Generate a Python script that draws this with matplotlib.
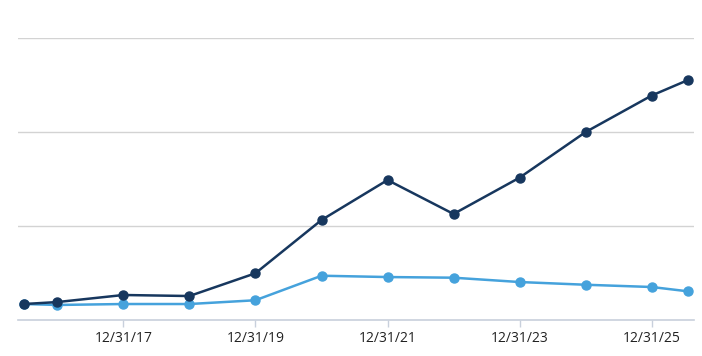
import matplotlib
matplotlib.use("Agg")
import matplotlib.pyplot as plt
import matplotlib.dates as mdates
import pandas as pd

dates = pd.to_datetime([
    "2016-06-30", "2016-12-31", "2017-12-31", "2018-12-31", "2019-12-31",
    "2020-12-31", "2021-12-31", "2022-12-31", "2023-12-31", "2024-12-31",
    "2025-12-31", "2026-07-20",
])
series_dark = [1.70, 1.91, 2.66, 2.55, 4.97, 10.64, 14.89, 11.28, 15.14, 20.0, 23.88, 25.53]
series_light = [1.70, 1.60, 1.70, 1.70, 2.10, 4.71, 4.57, 4.50, 4.04, 3.75, 3.51, 3.05]
tick_dates = pd.to_datetime(["2017-12-31", "2019-12-31", "2021-12-31", "2023-12-31", "2025-12-31"])
tick_labels = ["12/31/17", "12/31/19", "12/31/21", "12/31/23", "12/31/25"]

fig = plt.figure(figsize=(7.02, 3.56), dpi=100)
ax = fig.add_axes([18/702, 36/356, 676/702, 282/356])

ax.plot(dates, series_light, color="#45a2dc", lw=1.8, marker="o", ms=6.5, zorder=3)
ax.plot(dates, series_dark, color="#17375e", lw=1.8, marker="o", ms=6.5, zorder=4)

ax.set_xlim(pd.Timestamp("2016-05-27"), pd.Timestamp("2026-08-22"))
ax.set_ylim(0, 30)
ax.set_yticks([10, 20, 30])
ax.yaxis.grid(True, color="#d3d3d3", lw=1)
ax.tick_params(axis="y", left=False, labelleft=False)
ax.set_xticks(tick_dates)
ax.set_xticklabels(tick_labels, fontfamily="Open Sans", fontsize=10, color="#222222")
ax.tick_params(axis="x", length=5, width=1, color="#c8d0dc", pad=3)
for s in ["top", "left", "right"]:
    ax.spines[s].set_visible(False)
ax.spines["bottom"].set_color("#c8d0dc")
ax.spines["bottom"].set_linewidth(1.2)
ax.set_axisbelow(True)

fig.savefig("out.png", dpi=100)
